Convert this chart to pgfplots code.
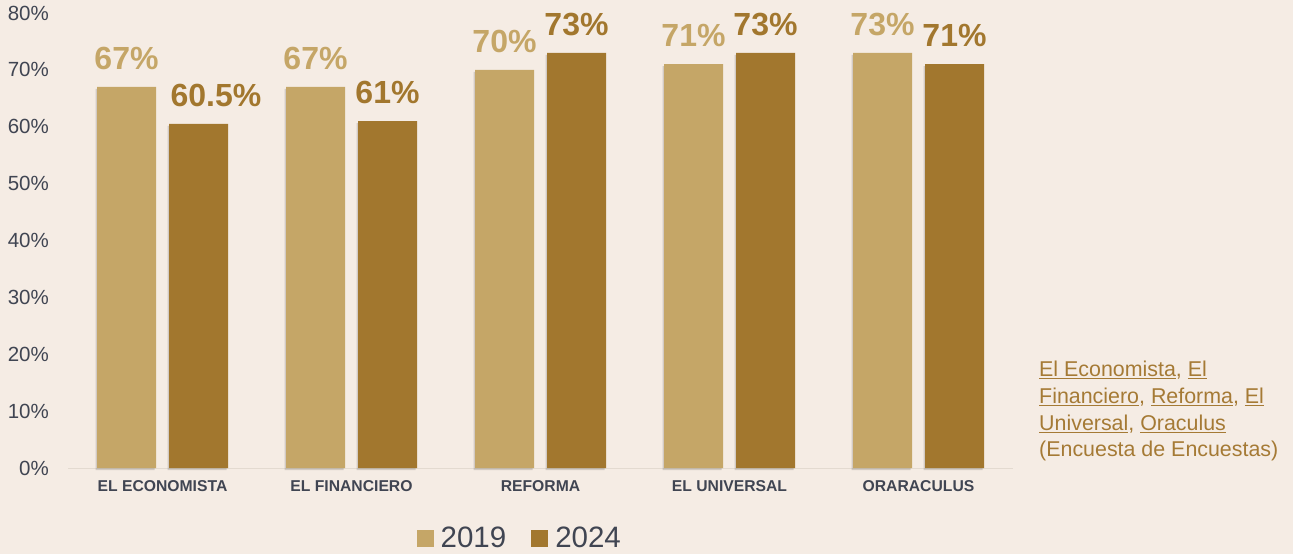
\documentclass[border=0pt]{standalone}
\usepackage{pgfplots}
\pgfplotsset{compat=1.18}
\usetikzlibrary{shadows}
\usepackage{fontspec}
\setmainfont{Liberation Sans}
\definecolor{bg}{HTML}{F5ECE4}
\definecolor{c19}{HTML}{C5A667}
\definecolor{c24}{HTML}{A2772E}
\definecolor{txt}{HTML}{404552}
\definecolor{src}{HTML}{A57A35}
\definecolor{baseln}{HTML}{E3DAD0}
\begin{document}
\begin{tikzpicture}
\fill[bg] (0pt,0pt) rectangle (1293pt,554pt);
\begin{axis}[
  at={(68pt,86pt)}, anchor=south west,
  scale only axis, width=945pt, height=455pt,
  ybar, bar width=59pt,
  xmin=-0.5, xmax=4.5, ymin=0, ymax=80,
  clip=false,
  axis lines*=left,
  y axis line style={draw=none},
  x axis line style={draw=baseln, line width=1pt},
  major tick length=0pt,
  xtick={0,1,2,3,4},
  xticklabels={EL ECONOMISTA, EL FINANCIERO, REFORMA, EL UNIVERSAL, ORARACULUS},
  ytick={0,10,...,80},
  yticklabel={\pgfmathprintnumber{\tick}\%},
  /pgf/number format/assume math mode=true,
  yticklabel style={font=\fontsize{20.5}{24}\selectfont, text=txt, inner sep=0pt, anchor=east, xshift=-19pt},
  xticklabel style={font=\fontsize{15.7}{18}\selectfont\bfseries, text=txt, inner sep=0pt, anchor=north, yshift=-12pt},
  nodes near coords={\pgfmathprintnumber{\pgfplotspointmeta}\%},
  nodes near coords style={font=\fontsize{32}{36}\selectfont\bfseries, inner sep=0pt, anchor=south, yshift=17pt},
  legend style={at={(0.477,-0.154)}, anchor=center, draw=none, fill=none,
    legend columns=2, font=\fontsize{29.5}{34}\selectfont, text=txt,
    nodes={inner sep=0pt},
    /tikz/every odd column/.append style={column sep=7pt},
    /tikz/every even column/.append style={column sep=25pt}},
  legend image code/.code={\fill[#1, draw=none] (0pt,-8.5pt) rectangle (17pt,8.5pt);},
]
\addlegendimage{fill=c19, draw=none}
\addlegendimage{fill=c24, draw=none}
\addplot[forget plot, bar shift=-36pt, fill=c19, draw=none, every node near coord/.append style={text=c19},
  drop shadow={shadow xshift=-1.5pt, shadow yshift=-2pt, fill=black, opacity=0.14}]
  coordinates {(0,67) (1,67) (2,70) (3,71) (4,73)};
\addplot[forget plot, bar shift=36pt, fill=c24, draw=none,
  visualization depends on={value \coordindex \as \myidx},
  every node near coord/.append style={text=c24, xshift={(\myidx==0)*17.5pt}},
  drop shadow={shadow xshift=-1.5pt, shadow yshift=-2pt, fill=black, opacity=0.14}]
  coordinates {(0,60.5) (1,61) (2,73) (3,73) (4,71)};
\legend{2019,2024}
\end{axis}
\node[anchor=north west, align=left, inner sep=0pt, text=src, font=\fontsize{21.4}{26.7}\selectfont] at (1039pt,193pt)
  {\underline{El Economista}, \underline{El}\\ \underline{Financiero}, \underline{Reforma}, \underline{El}\\ \underline{Universal}, \underline{Oraculus}\\ (Encuesta de Encuestas)};
\end{tikzpicture}
\end{document}
